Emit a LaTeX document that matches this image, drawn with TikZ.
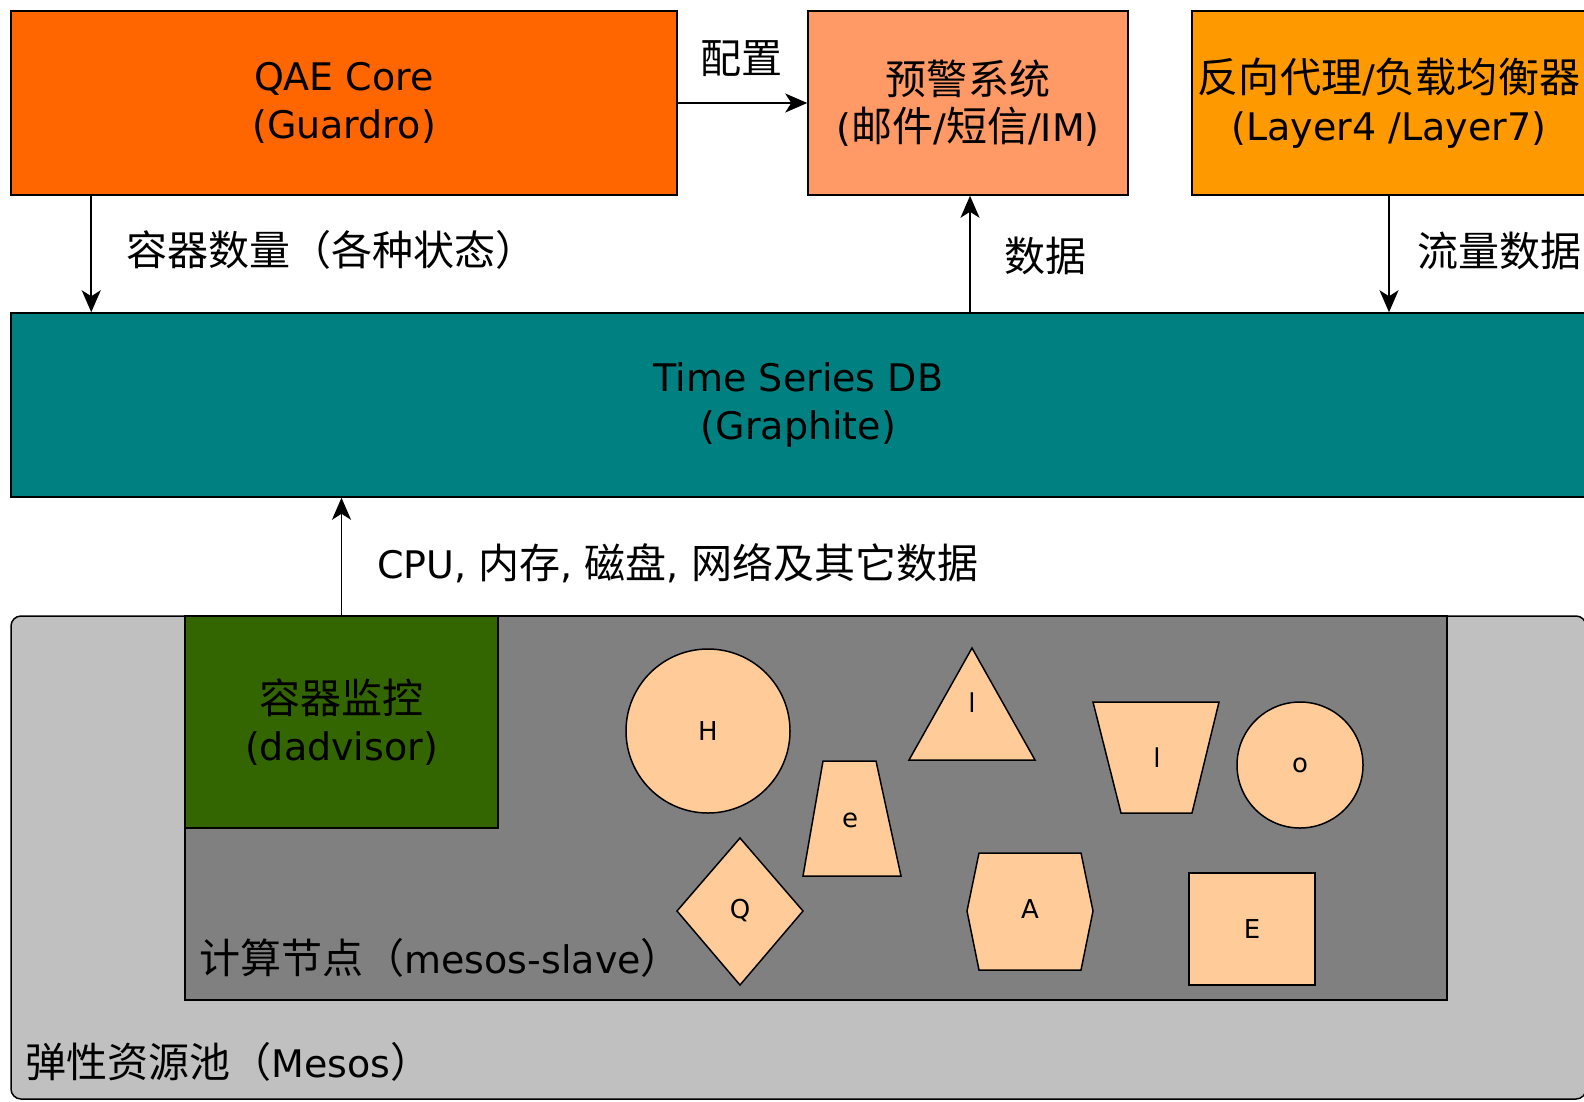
\documentclass[tikz,border=0pt]{standalone}
\usepackage{fontspec}
\setmainfont{DejaVu Sans}
\newfontfamily\cjk[Scale=1.08]{Noto Sans CJK SC}
\usetikzlibrary{arrows.meta,shapes.geometric}
\definecolor{qaec}{HTML}{FF6600}
\definecolor{warnc}{HTML}{FF9966}
\definecolor{lbc}{HTML}{FF9900}
\definecolor{tsdbc}{HTML}{008080}
\definecolor{monc}{HTML}{336600}
\definecolor{nodec}{HTML}{808080}
\definecolor{mesosc}{HTML}{C0C0C0}
\definecolor{shapec}{HTML}{FFCC99}
\tikzset{
  box/.style={draw=black, line width=1.5pt, rectangle, inner sep=0pt, align=center,
    font=\fontsize{38}{47.5}\selectfont},
  lbl/.style={inner sep=0pt, anchor=west, font=\fontsize{38}{47.5}\selectfont},
  arr/.style={-{Stealth[length=22pt,width=19pt,inset=6pt]}, line width=1.8pt},
  shp/.style={draw=black, line width=1.5pt, fill=shapec},
  slbl/.style={inner sep=0pt, font=\fontsize{26}{30}\selectfont}
}
\begin{document}
\begin{tikzpicture}[x=1pt,y=-1pt]
\clip (0,0) rectangle (1584,1101);
\fill[white] (0,0) rectangle (1584,1101);
% containers
\node[box, fill=mesosc, rounded corners=10pt, minimum width=1575pt, minimum height=483pt] (mesos) at (798.5,857.5) {};
\node[box, fill=nodec, minimum width=1262pt, minimum height=384pt] (slave) at (816,808) {};
\node[box, fill=monc, minimum width=313pt, minimum height=212pt] (mon) at (341.5,722) {{\cjk 容器监控}\\(dadvisor)};
\node[lbl] (mesoslbl) at (25,1062) {{\cjk 弹性资源池（}Mesos{\cjk ）}};
\node[lbl] (slavelbl) at (199,958) {{\cjk 计算节点（}mesos-slave{\cjk ）}};
% shapes
\node[circle, shp, minimum size=164pt, inner sep=0pt] (sH) at (708,731) {};
\node[slbl] (tH) at (sH.center) {H};
\draw[shp] (972,648) -- (1035,760) -- (909,760) -- cycle;
\node[slbl] (tl1) at (972,703) {l};
\draw[shp] (823,761) -- (876,761) -- (901,876) -- (803,876) -- cycle;
\node[slbl] (te) at (850,820) {e};
\draw[shp] (1093,702) -- (1219,702) -- (1192,813) -- (1121,813) -- cycle;
\node[slbl] (tl2) at (1157,758) {l};
\node[circle, shp, minimum size=126pt, inner sep=0pt] (so) at (1300,765) {};
\node[slbl] (to) at (so.center) {o};
\draw[shp] (740,838) -- (803,911) -- (740,985) -- (677,911) -- cycle;
\node[slbl] (tQ) at (740,911) {Q};
\draw[shp] (979,853) -- (1081,853) -- (1093,911) -- (1081,970) -- (979,970) -- (967,911) -- cycle;
\node[slbl] (tA) at (1030,909) {A};
\node[rectangle, shp, minimum width=126pt, minimum height=112pt, inner sep=0pt] (sE) at (1252,929) {};
\node[slbl] (tE) at (sE.center) {E};
% tsdb
\node[box, fill=tsdbc, minimum width=1575pt, minimum height=184pt] (tsdb) at (798.5,405) {Time Series DB\\(Graphite)};
% top boxes
\node[box, fill=qaec, minimum width=666pt, minimum height=184pt] (qae) at (344,103) {QAE Core\\(Guardro)};
\node[box, fill=warnc, minimum width=320pt, minimum height=184pt] (warn) at (968,103) {{\cjk 预警系统}\\({\cjk 邮件}/{\cjk 短信}/IM)};
\node[box, fill=lbc, minimum width=394pt, minimum height=184pt] (lb) at (1389,103) {{\cjk 反向代理}/{\cjk 负载均衡器}\\(Layer4 /Layer7)};
% connectors
\draw[arr] (qae.east) -- (warn.west);
\node[lbl] (cfg) at (700,59) {\cjk 配置};
\draw[arr] ([xshift=81pt]qae.south west) -- ([xshift=81pt]qae.south west |- tsdb.north);
\node[lbl] (cnt) at (126,250) {\cjk 容器数量（各种状态）};
\draw[arr] ([xshift=2pt]tsdb.north -| warn.south) -- ([xshift=2pt]warn.south);
\node[lbl] (dat) at (1004,256) {\cjk 数据};
\draw[arr] (lb.south) -- (lb.south |- tsdb.north);
\node[lbl] (flow) at (1417,251) {\cjk 流量数据};
\draw[arr] (mon.north) -- (mon.north |- tsdb.south);
\node[lbl] (cpu) at (377,563) {CPU, {\cjk 内存}, {\cjk 磁盘}, {\cjk 网络及其它数据}};
\end{tikzpicture}
\end{document}
